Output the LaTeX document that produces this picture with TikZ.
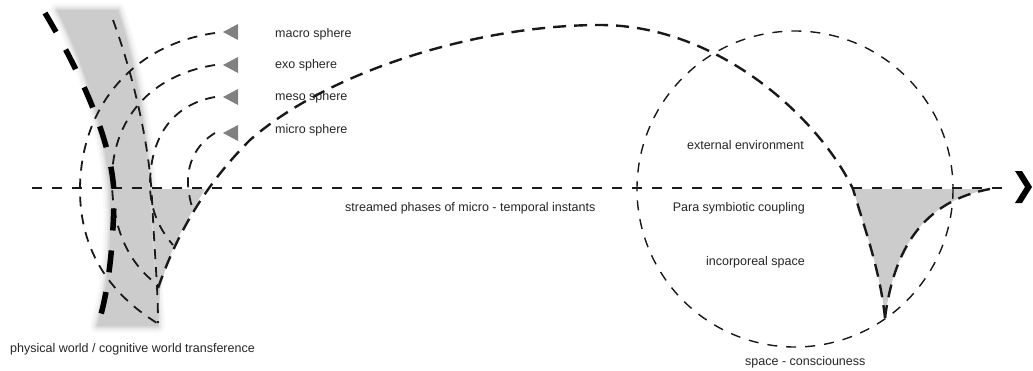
\documentclass[tikz,border=0pt]{standalone}
\usepackage{fontspec}
\setmainfont{Liberation Sans}
\begin{document}
\begin{tikzpicture}[x=1pt,y=-1pt,
  arcdash/.style={line width=1.8pt, dash pattern=on 10pt off 8pt, draw=black!90},
  hdash/.style={line width=1.6pt, dash pattern=on 10pt off 10pt, draw=black!90},
  circdash/.style={line width=1.4pt, dash pattern=on 10pt off 9pt, draw=black!90},
  longdash/.style={line width=2.4pt, dash pattern=on 13pt off 8pt, draw=black!90},
  heavydash/.style={line width=5.5pt, dash pattern=on 22pt off 20pt, draw=black},
  lbl/.style={font=\fontsize{12.5}{14}\selectfont, inner sep=0pt, text=black!85},
  trifill/.style={fill=black!50},
  shadefill/.style={fill=black!20},
  softedge/.style={draw=black!20, line join=round},
]
\useasboundingbox (0,0) rectangle (1033,370);

% soft gray band
\def\bandpath{(57,10) -- (118,10) .. controls (138,70) and (148,140) .. (150,200) .. controls (153,260) and (158,300) .. (158,326) -- (97,326) .. controls (107,290) and (112,250) .. (110,200) .. controls (108,140) and (87,70) .. (57,10) -- cycle}
\draw[softedge, line width=14pt, opacity=0.12] \bandpath;
\draw[softedge, line width=10pt, opacity=0.18] \bandpath;
\draw[softedge, line width=6pt, opacity=0.3] \bandpath;
\draw[softedge, line width=3pt, opacity=0.5] \bandpath;
\fill[black!20] \bandpath;

% shaded triangles
\fill[shadefill] (150,189) -- (205,189) .. controls (190,215) and (168,250) .. (160,290) -- (158,323) -- (152,200) -- cycle;
\fill[shadefill] (853,189) -- (990,189) .. controls (930,200) and (895,240) .. (885,318) .. controls (880,270) and (865,230) .. (853,189) -- cycle;

% coordinates
\coordinate (hl) at (32,188);
\coordinate (hr) at (1008,188);
\coordinate (cc) at (795,189);
\coordinate (bot) at (158,323);
\coordinate (tip) at (885,318);
\coordinate (rend) at (990,189);
\coordinate (macroS) at (215,33);
\coordinate (exoS) at (215,65);
\coordinate (mesoS) at (215,97);
\coordinate (microS) at (215,133);

% horizontal axis
\draw[hdash] (hl) -- (hr);
\fill[black] (1015,171) -- (1022,171) -- (1032,187) -- (1022,203) -- (1015,203) -- (1025,187) -- cycle;

% big circle
\draw[circdash] (cc) circle[radius=158];

% sphere arcs
\draw[arcdash] (113,20) .. controls (135,80) and (150,150) .. (152,200) .. controls (155,260) and (158,290) .. (bot);
\draw[arcdash] (macroS) .. controls (130,45) and (80,110) .. (80,190) .. controls (80,260) and (120,300) .. (157,323);
\draw[arcdash] (exoS) .. controls (150,75) and (112,120) .. (112,180) .. controls (112,230) and (130,265) .. (158,285);
\draw[arcdash] (mesoS) .. controls (170,105) and (150,140) .. (150,185) .. controls (150,210) and (160,230) .. (173,245);
\draw[arcdash] (microS) .. controls (195,145) and (187,165) .. (188,185) .. controls (189,195) and (190,200) .. (192,207);

% long curve
\draw[longdash] (158,288) .. controls (175,240) and (200,190) .. (250,140) .. controls (330,70) and (480,25) .. (600,25) .. controls (720,25) and (820,120) .. (853,189) .. controls (865,230) and (880,270) .. (tip);
\draw[longdash] (tip) .. controls (895,240) and (930,200) .. (rend);

% heavy dashed curve
\draw[heavydash] (45,13) .. controls (85,80) and (115,150) .. (114,200) .. controls (113,250) and (108,290) .. (100,318);

% grey arrow triangles
\fill[trifill] (223,32) -- (238,24) -- (238,40) -- cycle;
\fill[trifill] (223,65) -- (238,57) -- (238,73) -- cycle;
\fill[trifill] (223,97) -- (238,89) -- (238,105) -- cycle;
\fill[trifill] (223,133) -- (238,125) -- (238,141) -- cycle;

% labels
\node[lbl, anchor=base west] (lmacro) at (275,37.5) {macro sphere};
\node[lbl, anchor=base west] (lexo) at (275,68.5) {exo sphere};
\node[lbl, anchor=base west] (lmeso) at (275,100.5) {meso sphere};
\node[lbl, anchor=base west] (lmicro) at (275,133.5) {micro sphere};
\node[lbl, anchor=base west] (lphys) at (10,352) {physical world / cognitive world transference};
\node[lbl, anchor=base west] (lstream) at (345,211) {streamed phases of micro - temporal instants};
\node[lbl, anchor=base east] (lext) at (804,149) {external environment};
\node[lbl, anchor=base east] (lpara) at (805,211) {Para symbiotic coupling};
\node[lbl, anchor=base east] (linc) at (805,265) {incorporeal space};
\node[lbl, anchor=base west] (lspace) at (745,365) {space - consciouness};
\end{tikzpicture}
\end{document}
